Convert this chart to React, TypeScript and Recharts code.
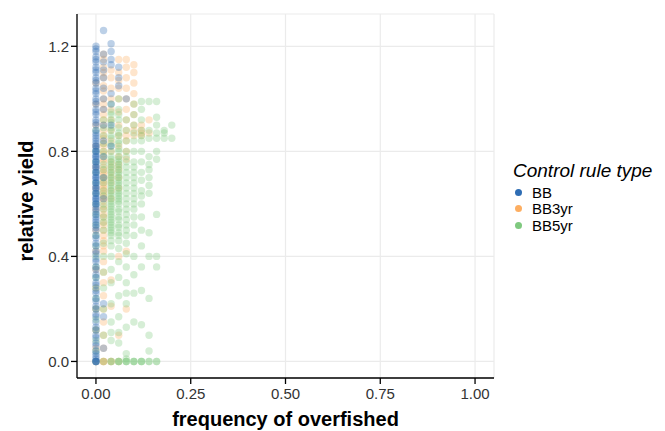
import React from "react";
import {
  ScatterChart,
  Scatter,
  XAxis,
  YAxis,
  CartesianGrid,
  Label,
} from "recharts";

const FONT = '"Liberation Sans", Arial, Helvetica, sans-serif';

// x positions of the value columns (frequency of overfished)
const xLevels = [0, 0.02, 0.04, 0.06, 0.08, 0.1, 0.12, 0.14, 0.16, 0.18, 0.2];

// relative yield, one list per x column
const bbYields: number[][] = [
  [
    0, 0, 0, 0, 0.01, 0.02, 0.03, 0.04, 0.06, 0.07, 0.09, 0.1, 0.12, 0.13, 0.15,
    0.17, 0.18, 0.2, 0.21, 0.23, 0.24, 0.26, 0.27, 0.29, 0.3, 0.32, 0.33, 0.35,
    0.36, 0.38, 0.39, 0.41, 0.42, 0.44, 0.45, 0.47, 0.48, 0.5, 0.51, 0.52, 0.53,
    0.54, 0.55, 0.56, 0.57, 0.58, 0.59, 0.6, 0.6, 0.61, 0.62, 0.62, 0.63, 0.64,
    0.64, 0.65, 0.66, 0.66, 0.67, 0.68, 0.68, 0.69, 0.7, 0.7, 0.71, 0.72, 0.72,
    0.73, 0.74, 0.74, 0.75, 0.76, 0.76, 0.77, 0.78, 0.78, 0.79, 0.8, 0.8, 0.81,
    0.82, 0.82, 0.83, 0.84, 0.85, 0.86, 0.87, 0.88, 0.9, 0.91, 0.92, 0.94, 0.95,
    0.96, 0.98, 0.99, 1.0, 1.02, 1.03, 1.04, 1.06, 1.07, 1.08, 1.1, 1.11, 1.12,
    1.14, 1.15, 1.16, 1.18, 1.19, 1.2,
  ],
  [1.26, 1.17, 1.14, 1.11, 1.08, 1.04, 1.0, 0.96, 0.9, 0.84, 0.78, 0.7, 0.62, 0.22, 0.17, 0.05],
  [1.21, 1.18, 1.15, 1.13, 1.02, 0.98, 0.9, 0.82],
  [1.12, 1.08, 1.05],
  [1.0],
];

const bb3yrYields: number[][] = [
  [0, 0.05, 0.12, 0.2, 0.28, 0.35, 0.42, 0.5, 0.58, 0.66, 0.74, 0.82, 0.9, 0.98, 1.06],
  [
    0, 0, 0, 0.05, 0.1, 0.15, 0.2, 0.25, 0.3, 0.34, 0.38, 0.42, 0.44, 0.46, 0.48,
    0.5, 0.52, 0.53, 0.55, 0.56, 0.58, 0.59, 0.61, 0.62, 0.63, 0.64, 0.65, 0.66,
    0.67, 0.68, 0.69, 0.7, 0.71, 0.72, 0.73, 0.74, 0.76, 0.77, 0.79, 0.8, 0.82,
    0.83, 0.85, 0.86, 0.88, 0.9, 0.92, 0.94, 0.96, 0.98, 1.0, 1.03, 1.05, 1.08,
    1.1, 1.12, 1.15, 1.17,
  ],
  [0, 0, 0.21, 0.31, 0.62, 0.65, 0.68, 0.7, 0.72, 0.74, 0.76, 0.8, 0.84, 0.88, 0.92, 0.96, 1.0, 1.04, 1.08, 1.11],
  [0, 0.1, 0.4, 0.66, 0.7, 0.73, 0.75, 0.78, 0.82, 0.86, 0.9, 0.95, 1.0, 1.04, 1.07, 1.1, 1.15],
  [0.2, 0.42, 0.77, 0.8, 0.84, 0.86, 0.88, 0.92, 0.96, 1.0, 1.04, 1.08, 1.12, 1.15],
  [0.86, 0.88, 0.9, 0.94, 0.98, 1.02, 1.06, 1.1, 1.13],
  [0.86, 0.87, 0.88, 0.9],
  [0.87, 0.92],
];

const bb5yrYields: number[][] = [
  [0, 0.04, 0.08, 0.12, 0.16, 0.2, 0.24, 0.28, 0.32, 0.36, 0.4, 0.44, 0.48, 0.52, 0.56, 0.6, 0.64, 0.68, 0.72, 0.76, 0.8, 0.88],
  [
    0, 0.1, 0.2, 0.28, 0.34, 0.4, 0.45, 0.5, 0.53, 0.55, 0.58, 0.6, 0.63, 0.65,
    0.68, 0.7, 0.73, 0.75, 0.78, 0.8, 0.83, 0.86, 0.89, 0.92,
  ],
  [
    0, 0, 0.08, 0.11, 0.15, 0.22, 0.3, 0.35, 0.4, 0.44, 0.46, 0.48, 0.49, 0.5,
    0.51, 0.52, 0.53, 0.54, 0.55, 0.56, 0.57, 0.58, 0.59, 0.6, 0.61, 0.62, 0.63,
    0.64, 0.65, 0.66, 0.67, 0.68, 0.69, 0.7, 0.71, 0.72, 0.73, 0.74, 0.75, 0.76,
    0.77, 0.78, 0.8, 0.82, 0.83, 0.85, 0.86, 0.88, 0.89, 0.91, 0.92, 0.94, 0.95,
    0.98,
  ],
  [
    0, 0, 0, 0.07, 0.11, 0.17, 0.25, 0.32, 0.38, 0.43, 0.46, 0.48, 0.49, 0.51,
    0.52, 0.54, 0.55, 0.57, 0.58, 0.6, 0.61, 0.62, 0.63, 0.64, 0.65, 0.66, 0.67,
    0.68, 0.69, 0.7, 0.71, 0.72, 0.73, 0.74, 0.75, 0.76, 0.77, 0.78, 0.8, 0.81,
    0.83, 0.84, 0.86, 0.87, 0.89, 0.92, 0.94, 0.96, 1.0,
  ],
  [
    0, 0, 0, 0.01, 0.03, 0.13, 0.22, 0.26, 0.3, 0.36, 0.41, 0.45, 0.48, 0.5, 0.52,
    0.54, 0.56, 0.58, 0.6, 0.62, 0.64, 0.66, 0.68, 0.7, 0.72, 0.74, 0.76, 0.78,
    0.8, 0.84, 0.88, 0.92,
  ],
  [
    0, 0, 0, 0.15, 0.26, 0.33, 0.4, 0.48, 0.52, 0.55, 0.58, 0.6, 0.62, 0.64, 0.66,
    0.68, 0.7, 0.72, 0.74, 0.76, 0.8, 0.84, 0.87, 0.9, 0.94, 0.98,
  ],
  [0, 0, 0, 0.14, 0.27, 0.36, 0.44, 0.5, 0.55, 0.6, 0.63, 0.65, 0.69, 0.72, 0.76, 0.8, 0.84, 0.86, 0.88, 0.92, 0.96, 0.99],
  [0, 0, 0.04, 0.1, 0.24, 0.4, 0.49, 0.64, 0.67, 0.7, 0.73, 0.75, 0.78, 0.85, 0.88, 0.99],
  [0, 0, 0.36, 0.4, 0.56, 0.77, 0.8, 0.85, 0.87, 0.9, 0.93, 0.99],
  [0.85, 0.87, 0.88],
  [0.85, 0.9],
];

const xTicks = [0, 0.25, 0.5, 0.75, 1];
const yTicks = [0, 0.4, 0.8, 1.2];

const seriesNames = ["BB", "BB3yr", "BB5yr"];
const seriesColors = ["#2e6db4", "#fdae61", "#7fc97f"];

const toPoints = (cols: number[][]) =>
  cols.flatMap((ys, i) => ys.map((y) => ({ x: xLevels[i], y })));

const seriesData = [toPoints(bbYields), toPoints(bb3yrYields), toPoints(bb5yrYields)];

// orange underneath, then green, blue on top
const drawOrder = [1, 2, 0];

const dot = (color: string) => (props: any) => (
  <circle cx={props.cx} cy={props.cy} r={3.7} fill={color} fillOpacity={0.32} />
);

const tickStyle = { fontFamily: FONT, fontSize: 15, fill: "#333" };

export default function App() {
  return (
    <div style={{ position: "relative", width: 657, height: 423 }}>
      <ScatterChart
        width={657}
        height={423}
        margin={{ top: 6, right: 171, left: 0, bottom: 0 }}
      >
        <CartesianGrid stroke="#ebebeb" strokeWidth={1.2} />
        <XAxis
          type="number"
          dataKey="x"
          domain={[-0.05, 1.05]}
          ticks={xTicks}
          allowDataOverflow
          height={53}
          tickFormatter={(v: number) => v.toFixed(2)}
          tick={tickStyle}
          tickSize={6}
          tickMargin={4}
          axisLine={{ stroke: "#000", strokeWidth: 1.3 }}
          tickLine={{ stroke: "#000", strokeWidth: 1.3 }}
        >
          <Label
            content={(p: any) => (
              <text
                x={p.viewBox.x + p.viewBox.width / 2}
                y={418}
                textAnchor="middle"
                fontFamily={FONT}
                fontSize={20}
                fontWeight="bold"
                fill="#000"
              >
                frequency of overfished
              </text>
            )}
          />
        </XAxis>
        <YAxis
          type="number"
          dataKey="y"
          domain={[-0.063, 1.323]}
          ticks={yTicks}
          allowDataOverflow
          width={69}
          tickFormatter={(v: number) => v.toFixed(1)}
          tick={tickStyle}
          tickSize={6}
          tickMargin={2}
          axisLine={{ stroke: "#000", strokeWidth: 1.3 }}
          tickLine={{ stroke: "#000", strokeWidth: 1.3 }}
        >
          <Label
            content={() => (
              <text
                x={18}
                y={193}
                transform="rotate(-90 18 193)"
                textAnchor="middle"
                dominantBaseline="central"
                fontFamily={FONT}
                fontSize={20}
                fontWeight="bold"
                fill="#000"
              >
                relative yield
              </text>
            )}
          />
        </YAxis>
        {drawOrder.map((i) => (
          <Scatter
            key={seriesNames[i]}
            name={seriesNames[i]}
            data={seriesData[i]}
            shape={dot(seriesColors[i])}
            isAnimationActive={false}
          />
        ))}
      </ScatterChart>
      <div
        style={{
          position: "absolute",
          left: 505,
          top: 152,
          fontFamily: FONT,
          color: "#000",
        }}
      >
        <div style={{ fontSize: 19, fontStyle: "italic", lineHeight: "22px", whiteSpace: "nowrap" }}>
          Control rule type
        </div>
        <div style={{ marginTop: 2 }}>
          {seriesNames.map((name, i) => (
            <div
              key={name}
              style={{ display: "flex", alignItems: "center", height: 16.5, fontSize: 15 }}
            >
              <span
                style={{
                  display: "inline-block",
                  width: 7,
                  height: 7,
                  borderRadius: "50%",
                  background: seriesColors[i],
                  marginLeft: 2,
                  marginRight: 10,
                }}
              />
              <span>{name}</span>
            </div>
          ))}
        </div>
      </div>
    </div>
  );
}
